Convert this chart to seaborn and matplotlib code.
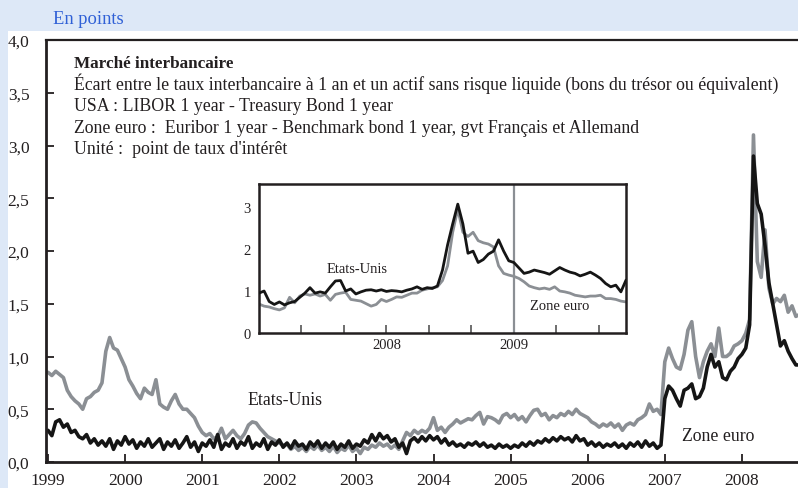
import numpy as np
import pandas as pd
import matplotlib
matplotlib.use("Agg")
import matplotlib.pyplot as plt
import seaborn as sns
from matplotlib.patches import Rectangle

# ---------------- data ----------------
# main chart: one value every 0.05 year from 1999.00 to 2008.75
main_start, main_step = 1999.0, 0.05
zone_euro = [
    0.30, 0.25, 0.38, 0.40, 0.33, 0.36, 0.28, 0.30, 0.24, 0.22, 0.26, 0.18, 0.22, 0.16, 0.20, 0.15, 0.22, 0.12, 0.20, 0.16,
    0.24, 0.17, 0.21, 0.13, 0.19, 0.15, 0.22, 0.14, 0.18, 0.22, 0.12, 0.19, 0.15, 0.21, 0.13, 0.18, 0.24, 0.14, 0.19, 0.10,
    0.18, 0.15, 0.21, 0.14, 0.26, 0.12, 0.18, 0.15, 0.22, 0.13, 0.19, 0.16, 0.24, 0.13, 0.18, 0.15, 0.22, 0.12, 0.19, 0.16,
    0.21, 0.14, 0.18, 0.13, 0.20, 0.15, 0.17, 0.12, 0.19, 0.15, 0.20, 0.13, 0.18, 0.14, 0.19, 0.12, 0.17, 0.14, 0.20, 0.13,
    0.17, 0.15, 0.21, 0.18, 0.26, 0.20, 0.27, 0.22, 0.25, 0.19, 0.22, 0.14, 0.18, 0.08, 0.20, 0.23, 0.19, 0.24, 0.20, 0.25,
    0.21, 0.24, 0.18, 0.22, 0.16, 0.19, 0.15, 0.17, 0.14, 0.18, 0.16, 0.19, 0.15, 0.18, 0.14, 0.16, 0.13, 0.17, 0.14, 0.16,
    0.13, 0.16, 0.14, 0.18, 0.15, 0.19, 0.16, 0.20, 0.18, 0.22, 0.19, 0.23, 0.20, 0.24, 0.21, 0.23, 0.19, 0.25, 0.20, 0.22,
    0.16, 0.19, 0.15, 0.18, 0.14, 0.17, 0.15, 0.18, 0.14, 0.17, 0.13, 0.18, 0.15, 0.19, 0.14, 0.20, 0.15, 0.18, 0.13, 0.16,
    0.60, 0.72, 0.68, 0.60, 0.53, 0.68, 0.70, 0.74, 0.60, 0.62, 0.70, 0.90, 1.02, 0.90, 0.95, 0.80, 0.78, 0.86, 0.90, 0.98,
    1.02, 1.08, 1.30, 2.90, 2.45, 2.35, 2.05, 1.70, 1.50, 1.30, 1.10, 1.15, 1.05, 0.98, 0.92, 0.92,
]
etats_unis = [
    0.85, 0.82, 0.86, 0.83, 0.80, 0.68, 0.62, 0.58, 0.55, 0.50, 0.60, 0.62, 0.66, 0.68, 0.75, 1.05, 1.18, 1.08, 1.06, 0.98,
    0.90, 0.78, 0.72, 0.65, 0.60, 0.70, 0.66, 0.64, 0.78, 0.55, 0.52, 0.50, 0.58, 0.64, 0.55, 0.50, 0.50, 0.46, 0.42, 0.34,
    0.28, 0.25, 0.27, 0.22, 0.24, 0.32, 0.22, 0.26, 0.30, 0.25, 0.22, 0.27, 0.35, 0.38, 0.37, 0.32, 0.28, 0.24, 0.22, 0.20,
    0.18, 0.16, 0.17, 0.12, 0.15, 0.11, 0.14, 0.10, 0.15, 0.12, 0.16, 0.11, 0.14, 0.10, 0.15, 0.09, 0.13, 0.11, 0.16, 0.10,
    0.13, 0.08, 0.14, 0.12, 0.16, 0.14, 0.18, 0.15, 0.17, 0.13, 0.16, 0.12, 0.20, 0.28, 0.25, 0.30, 0.27, 0.30, 0.28, 0.32,
    0.42, 0.30, 0.33, 0.28, 0.33, 0.36, 0.40, 0.37, 0.39, 0.41, 0.40, 0.44, 0.47, 0.36, 0.43, 0.42, 0.40, 0.37, 0.44, 0.46,
    0.42, 0.45, 0.40, 0.43, 0.38, 0.44, 0.49, 0.50, 0.44, 0.46, 0.40, 0.44, 0.42, 0.46, 0.44, 0.48, 0.45, 0.50, 0.46, 0.44,
    0.42, 0.38, 0.36, 0.33, 0.36, 0.34, 0.37, 0.33, 0.36, 0.30, 0.35, 0.37, 0.35, 0.40, 0.42, 0.45, 0.55, 0.48, 0.50, 0.45,
    0.95, 1.08, 0.98, 0.90, 0.88, 1.02, 1.25, 1.33, 1.00, 0.80, 0.95, 1.05, 1.12, 1.00, 1.27, 1.00, 1.00, 1.03, 1.10, 1.12,
    1.15, 1.22, 1.35, 3.10, 1.90, 1.75, 2.20, 1.65, 1.50, 1.55, 1.52, 1.58, 1.42, 1.48, 1.38, 1.40,
]
main_ticks = [1999, 2000, 2001, 2002, 2003, 2004, 2005, 2006, 2007, 2008]
main_yticks = [0.0, 0.5, 1.0, 1.5, 2.0, 2.5, 3.0, 3.5, 4.0]

# inset: one value every 0.02 year from 2008.00 to 2009.44
inset_start, inset_step = 2008.0, 0.02
inset_black = [
    0.95, 1.00, 0.75, 0.68, 0.74, 0.67, 0.72, 0.75, 0.85, 0.95, 1.08, 0.95, 0.98, 0.95, 1.10, 1.24, 1.25, 1.00, 1.05, 0.93,
    0.98, 1.02, 1.03, 1.00, 1.03, 0.99, 1.01, 1.00, 0.98, 1.02, 1.05, 1.10, 1.04, 1.08, 1.06, 1.12, 1.50, 2.10, 2.60, 3.07,
    2.60, 1.90, 1.95, 1.68, 1.75, 1.88, 1.95, 2.22, 1.95, 1.72, 1.68, 1.55, 1.42, 1.45, 1.50, 1.47, 1.44, 1.40, 1.48, 1.56,
    1.50, 1.45, 1.42, 1.36, 1.40, 1.45, 1.38, 1.30, 1.18, 1.10, 1.14, 0.98, 1.26,
]
inset_grey = [
    0.69, 0.64, 0.62, 0.58, 0.55, 0.60, 0.85, 0.72, 0.88, 0.93, 0.90, 0.93, 0.88, 0.92, 0.78, 0.92, 0.95, 0.97, 0.80, 0.78,
    0.76, 0.70, 0.64, 0.68, 0.80, 0.75, 0.80, 0.86, 0.85, 0.90, 0.95, 0.95, 1.02, 1.05, 1.08, 1.10, 1.25, 1.60, 2.40, 2.95,
    2.40, 2.30, 2.40, 2.20, 2.15, 2.12, 2.05, 1.60, 1.42, 1.38, 1.35, 1.30, 1.22, 1.12, 1.08, 1.05, 1.07, 1.04, 1.10, 1.00,
    0.98, 0.95, 0.90, 0.88, 0.86, 0.88, 0.88, 0.90, 0.82, 0.82, 0.80, 0.76, 0.74,
]
inset_yticks = [0, 1, 2, 3]
inset_labels = ["2008", "2009"]

# ---------------- style ----------------
sns.set_theme(style="ticks")
plt.rcParams['font.family'] = ['Liberation Serif', 'DejaVu Serif']
GREY = '#8b8f94'
BLACK = '#151515'
TXT = '#231f20'

W, H = 798, 489
fx = lambda px: px / W
fy = lambda py: 1 - py / H

fig = plt.figure(figsize=(W / 100, H / 100), dpi=100)
fig.patch.set_facecolor('#dde8f7')
fig.patches.append(Rectangle((fx(8), 0), (W - 8) / W, (H - 32) / H, transform=fig.transFigure,
                             facecolor='white', edgecolor='none', zorder=-5))

main_df = pd.DataFrame({
    'annee': main_start + main_step * np.arange(len(zone_euro)),
    'Zone euro': zone_euro,
    'Etats-Unis': etats_unis,
})
inset_df = pd.DataFrame({
    'annee': inset_start + inset_step * np.arange(len(inset_black)),
    'noir': inset_black,
    'gris': inset_grey,
})

# ---------------- main axes ----------------
ax = fig.add_axes([fx(46), fy(463), (W - 46) / W, (463 - 41) / H])
ax.set_facecolor('white')
sns.lineplot(data=main_df, x='annee', y='Etats-Unis', color=GREY, lw=2.6, ax=ax)
sns.lineplot(data=main_df, x='annee', y='Zone euro', color=BLACK, lw=2.6, ax=ax)
ax.set_xlim(1999 - 2 / 77.1, 1999 + 750 / 77.1)
ax.set_ylim(0, 4)
ax.set_xticks(main_ticks)
ax.set_xticklabels([str(t) for t in main_ticks])
ax.set_yticks(main_yticks)
ax.set_yticklabels([f"{v:.1f}".replace('.', ',') for v in main_yticks])
ax.set_xlabel('')
ax.set_ylabel('')
ax.tick_params(axis='both', direction='in', length=6, width=1.3, color=TXT, labelcolor=TXT, labelsize=12.5)
ax.tick_params(axis='y', pad=12)
ax.tick_params(axis='x', pad=7)
ax.spines['right'].set_visible(False)
ax.spines['left'].set_linewidth(2.0)
ax.spines['bottom'].set_linewidth(2.0)
ax.spines['top'].set_linewidth(1.6)
for s in ax.spines.values():
    s.set_color(TXT)

ax.text(1999 + (247 - 48) / 77.1, (463 - 401) / 105, 'Etats-Unis', fontsize=12.8, color=TXT, va='center', ha='left')
ax.text(1999 + (682 - 48) / 77.1, (463 - 437) / 105, 'Zone euro', fontsize=12.8, color=TXT, va='center', ha='left')

# header texts
fig.text(fx(53), fy(24), 'En points', fontsize=13.3, color='#2f60d6', va='baseline')
lines = [
    ('Marché interbancaire', 'bold', 68, 12.3),
    ("Écart entre le taux interbancaire à 1 an et un actif sans risque liquide (bons du trésor ou équivalent)", 'normal', 90, 12.8),
    ('USA : LIBOR 1 year - Treasury Bond 1 year', 'normal', 111.5, 12.8),
    ('Zone euro :  Euribor 1 year - Benchmark bond 1 year, gvt Français et Allemand', 'normal', 133, 12.8),
    ("Unité :  point de taux d'intérêt", 'normal', 154.5, 12.8),
]
for txt, wt, base, fs in lines:
    fig.text(fx(74), fy(base), txt, fontsize=fs, fontweight=wt, color=TXT, va='baseline')

# ---------------- inset ----------------
axi = fig.add_axes([fx(259), fy(334), (626 - 259) / W, (334 - 185) / H])
axi.set_facecolor('white')
axi.axvline(2009.0, color=GREY, lw=1.6, zorder=1)
sns.lineplot(data=inset_df, x='annee', y='gris', color=GREY, lw=2.0, ax=axi, zorder=2)
sns.lineplot(data=inset_df, x='annee', y='noir', color=BLACK, lw=2.0, ax=axi, zorder=3)
axi.set_xlim(2008.0, 2009.44)
axi.set_ylim(0, 3.55)
axi.set_xticks([2008 + k / 6 for k in range(1, 9)])
axi.set_xticklabels([])
axi.set_yticks(inset_yticks)
axi.set_yticklabels([str(v) for v in inset_yticks])
axi.set_xlabel('')
axi.set_ylabel('')
axi.tick_params(axis='x', direction='in', length=6, width=1.2, color='#555555')
axi.tick_params(axis='y', length=0, pad=6, labelsize=10.5, labelcolor=TXT)
for s in axi.spines.values():
    s.set_linewidth(1.8)
    s.set_color(TXT)
for xpos, lab in zip([2008.5, 2009.0], inset_labels):
    axi.text(xpos, -0.12, lab, fontsize=10.5, color=TXT, ha='center', va='top', clip_on=False)
axi.text(2008 + (327 - 259) / 255, (334 - 269) / 42, 'Etats-Unis', fontsize=10.5, color=TXT, va='center', ha='left')
axi.text(2008 + (530 - 259) / 255, (334 - 306.7) / 42, 'Zone euro', fontsize=10.5, color=TXT, va='center', ha='left')

fig.savefig('out.png', dpi=100, facecolor=fig.get_facecolor())
